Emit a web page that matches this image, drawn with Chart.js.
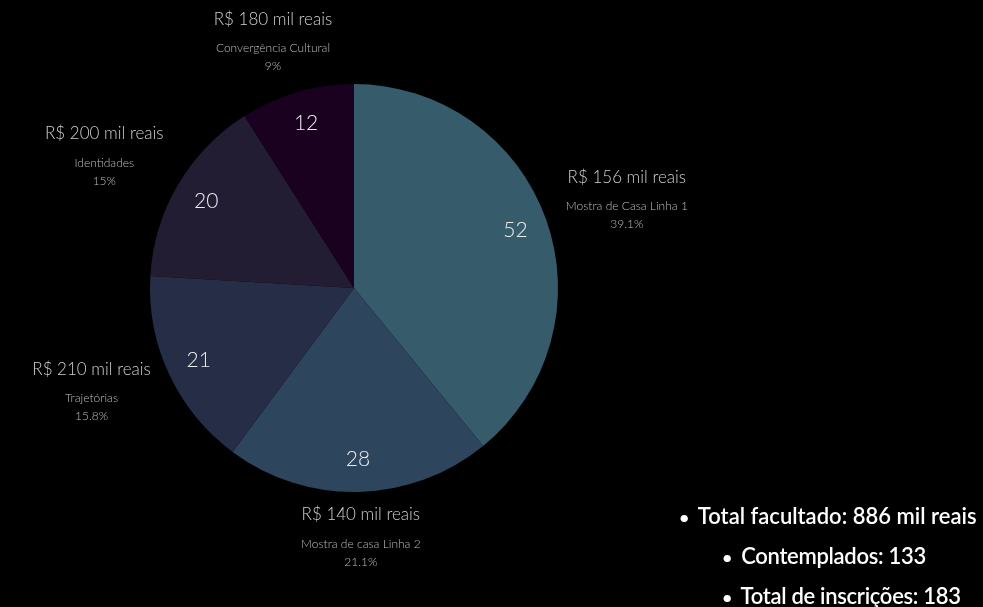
<!DOCTYPE html>
<html lang="pt-BR">
<head>
<meta charset="utf-8">
<script src="https://cdn.jsdelivr.net/npm/chart.js@4.4.1/dist/chart.umd.min.js"></script>
<style>
  html, body { margin: 0; padding: 0; background: #000; width: 983px; height: 607px; overflow: hidden; }
  #wrap { position: absolute; left: 0; top: 0; width: 708px; height: 576px; }
  .info { position: absolute; color: #fff; font-family: Lato, sans-serif; font-weight: 600; font-size: 22px; white-space: nowrap; }
  .info span { display: inline-block; width: 14px; font-size: 18px; }
</style>
</head>
<body>
<div id="wrap"><canvas id="pizza" width="708" height="576"></canvas></div>
<div class="info" style="left:679px; top:502px;"><span>•</span> Total facultado: 886 mil reais</div>
<div class="info" style="left:722px; top:542px; letter-spacing:-0.3px;"><span>•</span> Contemplados: 133</div>
<div class="info" style="left:722px; top:582px; letter-spacing:-0.3px;"><span>•</span> Total de inscrições: 183</div>
<script>
// projetos contemplados por linha
const linhas = ['Mostra de Casa Linha 1', 'Mostra de casa Linha 2', 'Trajetórias', 'Identidades', 'Convergência Cultural'];
const contemplados = [52, 28, 21, 20, 12];
const valores = ['R$ 156 mil reais', 'R$ 140 mil reais', 'R$ 210 mil reais', 'R$ 200 mil reais', 'R$ 180 mil reais'];
const percentuais = ['39.1%', '21.1%', '15.8%', '15%', '9%'];
const cores = ['#365b6b', '#2d455d', '#262d47', '#231d33', '#1a0120'];

// rótulos: número dentro da fatia e bloco de texto fora
const rotulos = {
  id: 'rotulos',
  afterDatasetsDraw(chart) {
    const c = chart.ctx;
    const arcs = chart.getDatasetMeta(0).data;
    c.save();
    c.textAlign = 'center';
    c.textBaseline = 'middle';
    arcs.forEach((arc, i) => {
      const p = arc.getProps(['x', 'y', 'startAngle', 'endAngle', 'outerRadius'], true);
      const mid = (p.startAngle + p.endAngle) / 2;
      const r = p.outerRadius;
      // valor dentro
      c.fillStyle = '#ececec';
      c.font = '300 21px Lato, sans-serif';
      c.fillText(String(contemplados[i]), p.x + Math.cos(mid) * r * 0.84, p.y + Math.sin(mid) * r * 0.84);
      // bloco externo (elipse)
      const bx = p.x + Math.cos(mid) * r * 1.42;
      const by = p.y + Math.sin(mid) * r * 1.24;
      c.fillStyle = '#cfcfcf';
      c.font = '300 17px Lato, sans-serif';
      c.fillText(valores[i], bx, by - 26);
      c.fillStyle = '#bdbdbd';
      c.font = '300 12px Lato, sans-serif';
      c.fillText(linhas[i], bx, by + 3);
      c.fillText(percentuais[i], bx, by + 21);
    });
    c.restore();
  }
};

new Chart(document.getElementById('pizza'), {
  type: 'pie',
  data: {
    labels: linhas,
    datasets: [{
      data: contemplados,
      backgroundColor: cores,
      borderWidth: 0
    }]
  },
  options: {
    responsive: false,
    animation: false,
    layout: { padding: { top: 84, bottom: 84, left: 0, right: 0 } },
    plugins: {
      legend: { display: false },
      tooltip: { enabled: false }
    }
  },
  plugins: [rotulos]
});
</script>
</body>
</html>
